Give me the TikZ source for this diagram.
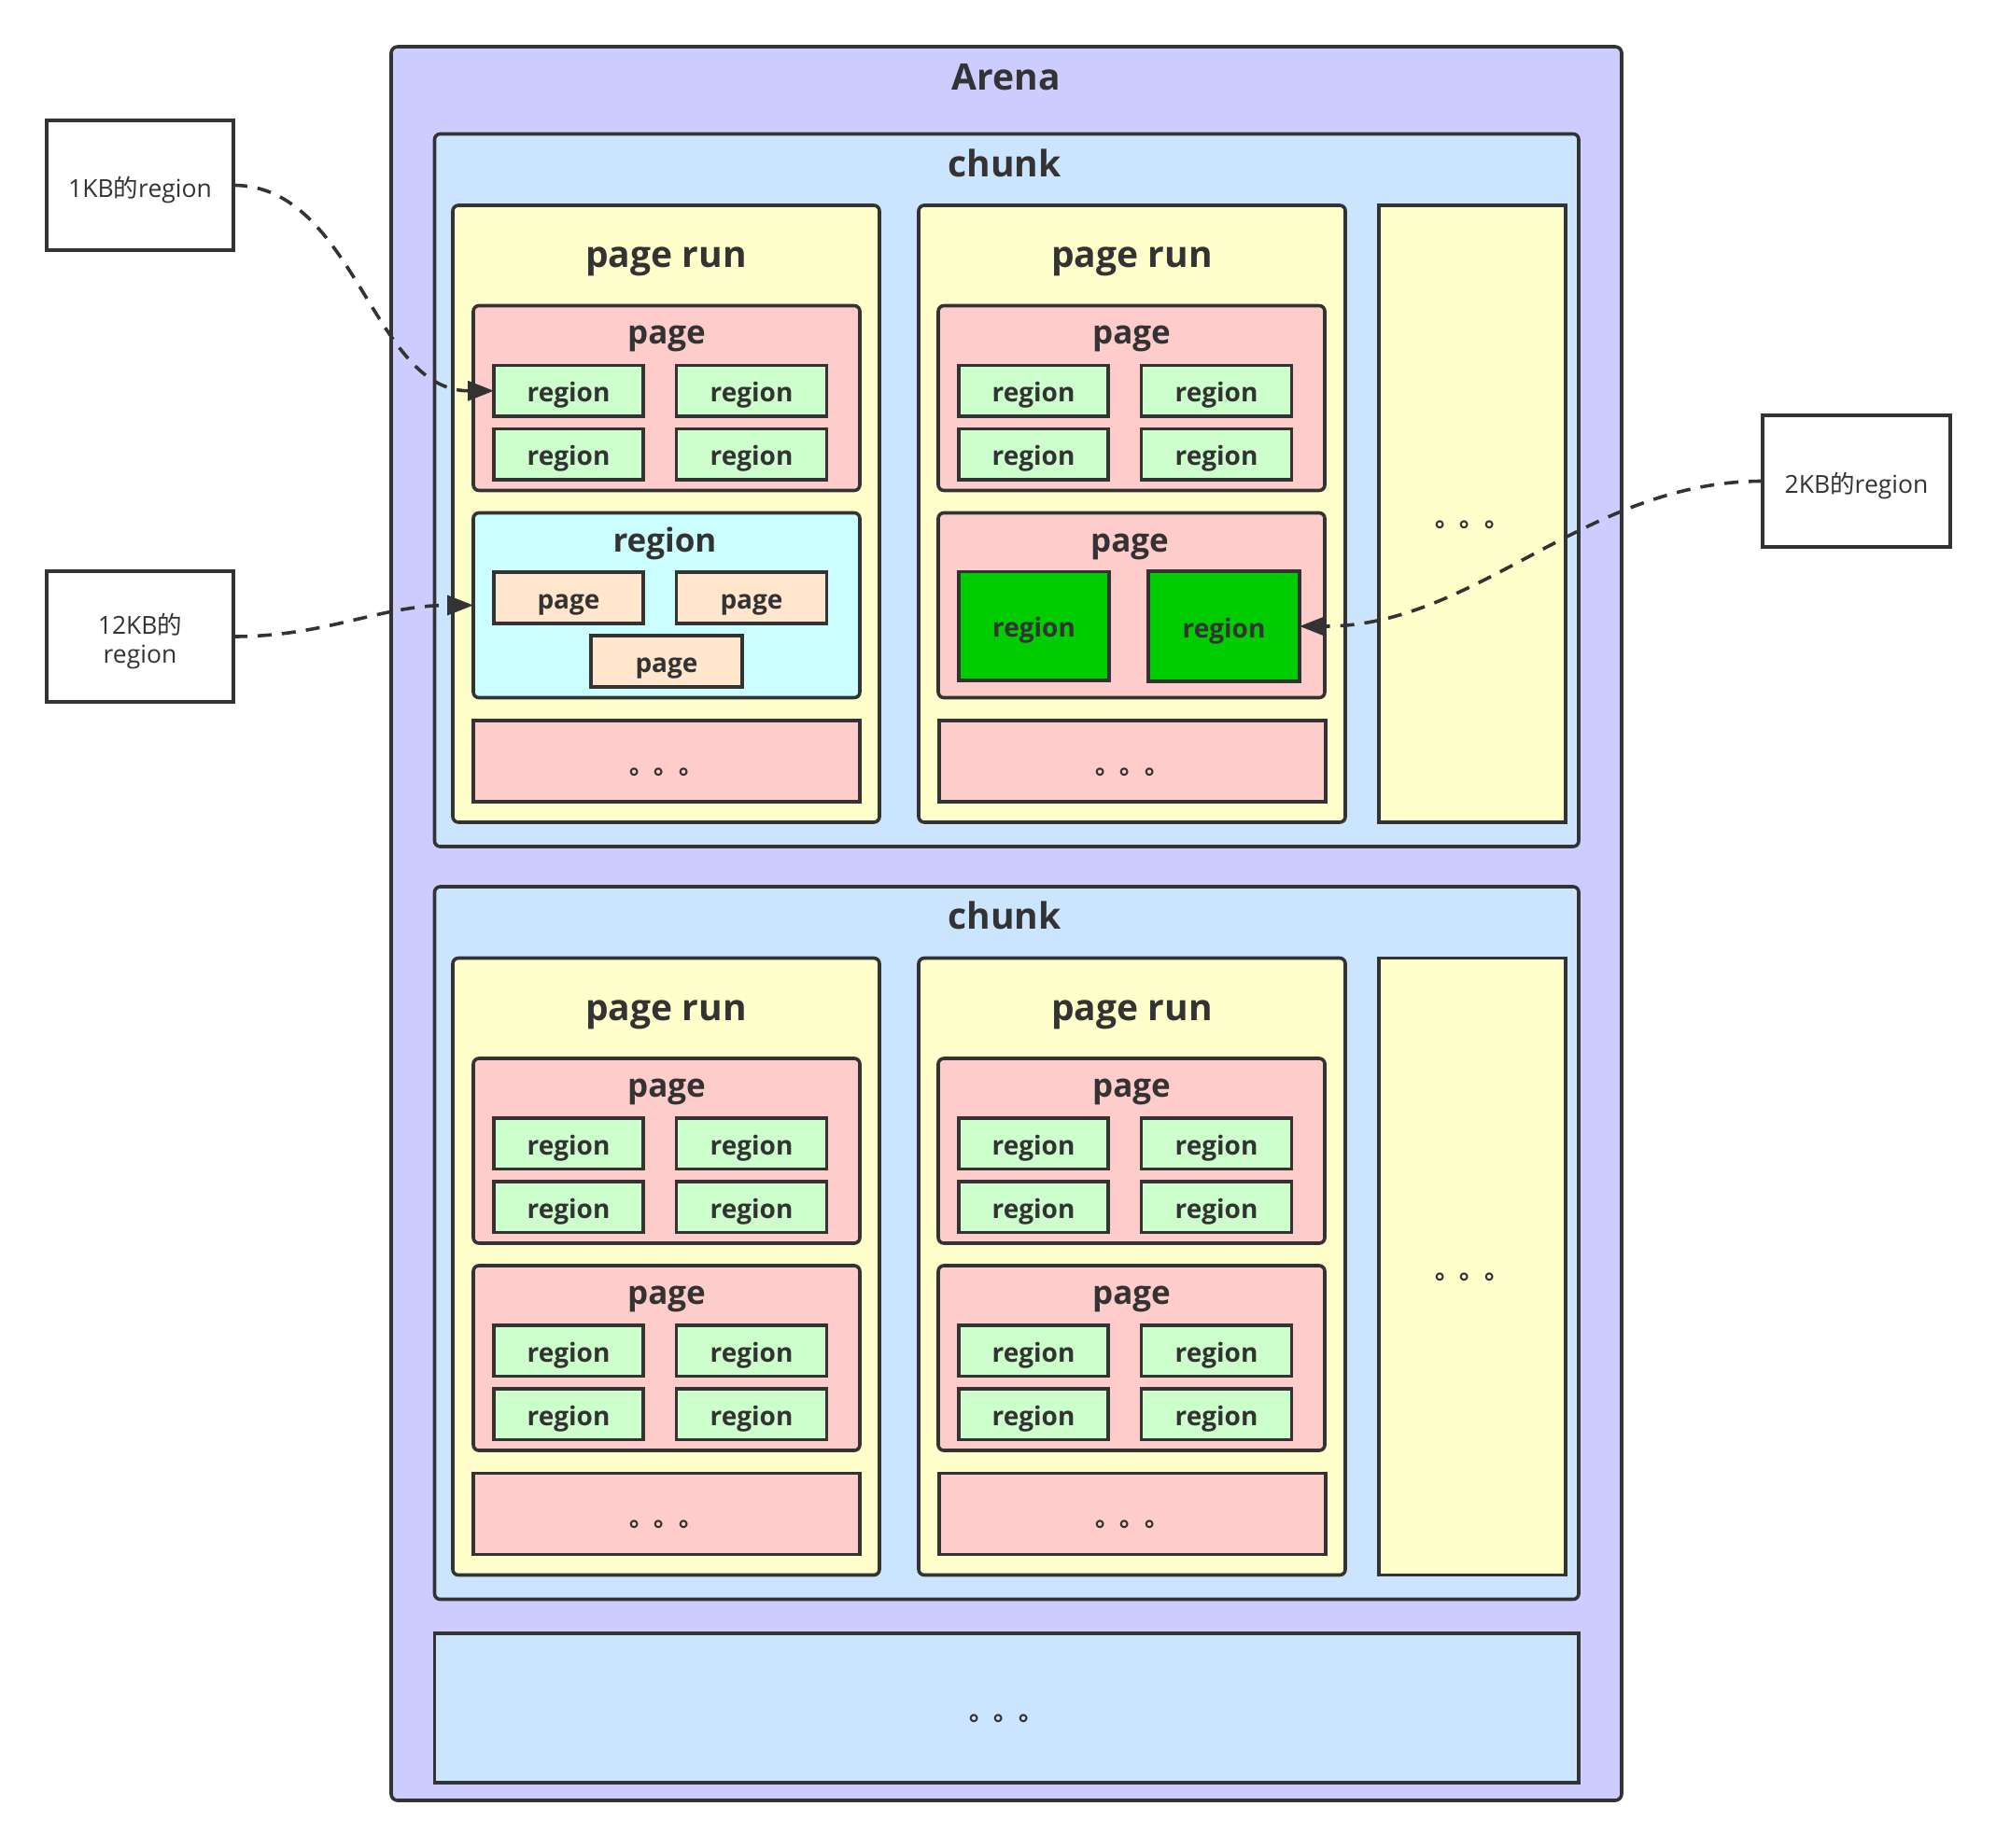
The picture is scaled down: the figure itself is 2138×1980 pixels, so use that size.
\documentclass[tikz,border=0pt]{standalone}
\usepackage{fontspec}
\setmainfont{Open Sans}
\newfontfamily\cjk{Noto Sans CJK SC}
\usetikzlibrary{arrows.meta}
\definecolor{ink}{HTML}{333333}
\definecolor{arenaC}{HTML}{CCCCFF}
\definecolor{chunkC}{HTML}{CCE5FF}
\definecolor{runC}{HTML}{FFFFCC}
\definecolor{pageC}{HTML}{FFCCCC}
\definecolor{regC}{HTML}{CCFFCC}
\definecolor{cyanC}{HTML}{CCFFFF}
\definecolor{peachC}{HTML}{FFE6CC}
\definecolor{greenC}{HTML}{00CC00}
% box from (x1,y1) to (x2,y2)
\newcommand\bx[6]{\node[#1, minimum width={(#5)-(#3)}, minimum height={(#6)-(#4)}] (#2) at ({((#3)+(#5))/2},{((#4)+(#6))/2}) {};}
% box with small centred label
\newcommand\lbx[7]{\bx{#1}{#2}{#3}{#4}{#5}{#6}\node[tsmall] (#2-t) at ({((#3)+(#5))/2},{((#4)+(#6))/2+12}) {#7};}
% dots text centred on a point
\newcommand\dotsat[3]{\node[tdots] (#1) at ({#2},{(#3)+13.5}) {。。。};}
% page with four regions: name, left, top
\newcommand\pagefour[3]{%
 \bx{pagebox}{#1}{#2}{#3}{(#2)+414}{(#3)+198}
 \node[tmid] (#1-t) at ({(#2)+207},{(#3)+41}) {page};
 \lbx{regbox}{#1-r1}{(#2)+22}{(#3)+64}{(#2)+182}{(#3)+118.5}{region}
 \lbx{regbox}{#1-r2}{(#2)+217.5}{(#3)+64}{(#2)+378.5}{(#3)+118.5}{region}
 \lbx{regbox}{#1-r3}{(#2)+22}{(#3)+132}{(#2)+182}{(#3)+186.5}{region}
 \lbx{regbox}{#1-r4}{(#2)+217.5}{(#3)+132}{(#2)+378.5}{(#3)+186.5}{region}
}
% page run frame: name, left, top
\newcommand\pagerun[3]{%
 \bx{runbox}{#1}{#2}{#3}{(#2)+457}{(#3)+661}
 \node[tbig] (#1-t) at ({(#2)+228.5},{(#3)+66.7}) {page run};
 \bx{pagemore}{#1-more}{(#2)+22}{(#3)+552}{(#2)+436}{(#3)+639}
 \dotsat{#1-more-t}{(#2)+229}{(#3)+595.5}
}
\begin{document}
\begin{tikzpicture}[x=1pt,y=-1pt,
  every node/.style={inner sep=0pt, outer sep=0pt, text=ink},
  boxbase/.style={draw=ink, line width=3.6pt},
  arenabox/.style={boxbase, fill=arenaC, rounded corners=7pt},
  chunkbox/.style={boxbase, fill=chunkC, rounded corners=6pt},
  chunkmore/.style={boxbase, fill=chunkC},
  runbox/.style={boxbase, fill=runC, rounded corners=6pt},
  runmore/.style={boxbase, fill=runC},
  pagebox/.style={boxbase, fill=pageC, rounded corners=6pt},
  pagemore/.style={boxbase, fill=pageC},
  regbox/.style={boxbase, fill=regC},
  bigregbox/.style={boxbase, fill=cyanC, rounded corners=6pt},
  subpagebox/.style={boxbase, fill=peachC},
  usedbox/.style={boxbase, fill=greenC},
  sidebox/.style={boxbase, fill=white},
  tbig/.style={font=\fontsize{39}{47}\selectfont\bfseries, anchor=base},
  tmid/.style={font=\fontsize{35}{42}\selectfont\bfseries, anchor=base},
  tsmall/.style={font=\fontsize{28}{34}\selectfont\bfseries, anchor=base},
  tside/.style={font=\fontsize{26.5}{31}\selectfont, anchor=base},
  tdots/.style={font=\cjk\fontsize{26.5}{32}\selectfont\bfseries, anchor=base},
  conn/.style={draw=ink, line width=3.6pt, dash pattern=on 15pt off 11pt, -{Triangle[length=28pt,width=21pt]}}
]
\useasboundingbox (0,0) rectangle (2138,1980);

% Arena
\bx{arenabox}{arena}{419}{50}{1737}{1929}
\node[tbig] (arena-t) at (1078,97) {Arena};

% ---------- chunk 1 ----------
\bx{chunkbox}{c1}{465.5}{143.5}{1691}{907}
\node[tbig] (c1-t) at (1076,189.3) {chunk};

\pagerun{c1a}{485}{220}
\pagefour{c1a1}{507}{327.5}
\bx{bigregbox}{c1a2}{507}{549.5}{921}{747.5}
\node[tmid] (c1a2-t) at (712,591) {region};
\lbx{subpagebox}{c1a2-p1}{529}{613}{689}{668}{page}
\lbx{subpagebox}{c1a2-p2}{724.5}{613}{885.5}{668}{page}
\lbx{subpagebox}{c1a2-p3}{633}{681}{795}{736}{page}

\pagerun{c1b}{984}{220}
\pagefour{c1b1}{1005}{327.5}
\bx{pagebox}{c1b2}{1005}{549.5}{1419}{747.5}
\node[tmid] (c1b2-t) at (1210,591) {page};
\lbx{usedbox}{c1b2-r1}{1027}{612.5}{1188}{729}{region}
\lbx{usedbox}{c1b2-r2}{1230}{612}{1392}{730}{region}

\bx{runmore}{c1m}{1477}{220}{1677}{881}
\dotsat{c1m-t}{1577}{550.5}

% ---------- chunk 2 ----------
\bx{chunkbox}{c2}{465.5}{950}{1691}{1713.5}
\node[tbig] (c2-t) at (1076,995.8) {chunk};

\pagerun{c2a}{485}{1026.5}
\pagefour{c2a1}{507}{1134}
\pagefour{c2a2}{507}{1356}

\pagerun{c2b}{984}{1026.5}
\pagefour{c2b1}{1005}{1134}
\pagefour{c2b2}{1005}{1356}

\bx{runmore}{c2m}{1477}{1026.5}{1677}{1687.5}
\dotsat{c2m-t}{1577}{1357}

% more chunks
\bx{chunkmore}{more}{465.5}{1750}{1691}{1910}
\dotsat{more-t}{1078}{1830}

% ---------- side notes ----------
\bx{sidebox}{k1}{50}{129}{250}{268}
\node[tside] (k1-t) at (150,211.7) {1KB{\cjk 的}region};
\bx{sidebox}{k12}{50}{612}{250}{752}
\node[tside] (k12-t1) at (150,679) {12KB{\cjk 的}};
\node[tside] (k12-t2) at (150,710) {region};
\bx{sidebox}{k2}{1888}{445}{2089}{586}
\node[tside] (k2-t) at (1988.5,528.5) {2KB{\cjk 的}region};

% ---------- connectors ----------
\draw[conn] (k1.east) .. controls +(130,0) and +(-130,0) .. (c1a1-r1.west);
\draw[conn] (k12.east) .. controls +(100,0) and +(-100,0) .. (c1a2.west);
\draw[conn] (k2.west) .. controls +(-190,0) and +(190,0) .. (c1b2-r2.east);
\end{tikzpicture}
\end{document}
